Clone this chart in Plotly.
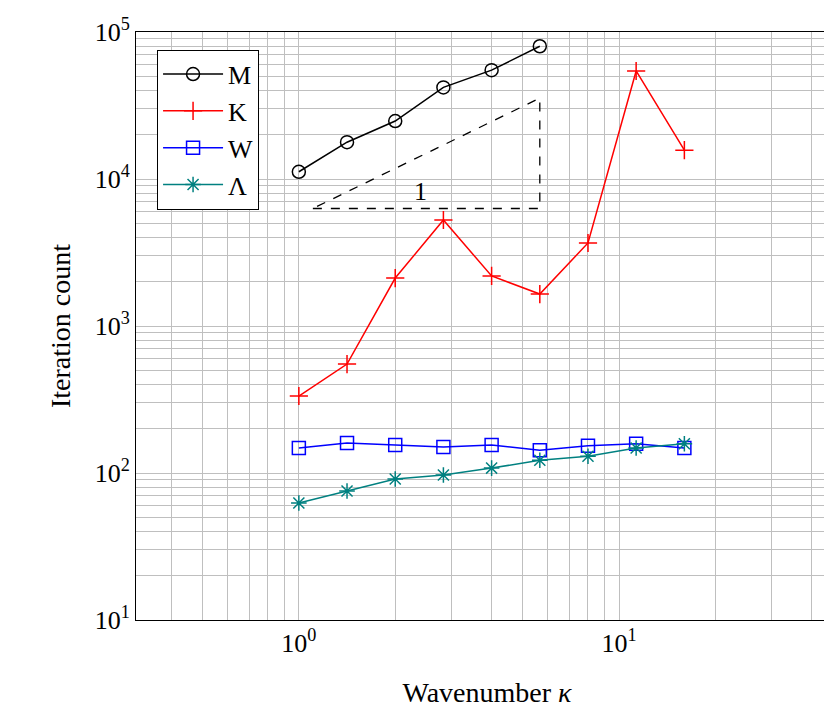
import plotly.graph_objects as go
import math

kappa = [1, 1.414, 2, 2.828, 4, 5.657, 8, 11.31, 16]
M_vals = [11200, 17800, 24800, 42000, 55000, 80000]
K_vals = [334, 551, 2120, 5260, 2190, 1650, 3670, 54300, 15700]
W_vals = [148, 160, 155, 150, 155, 143, 153, 158, 148]
L_vals = [62.5, 75.4, 91, 97, 108, 122, 130, 148, 158]
tri_x = [1.106, 5.657, 5.657, 1.106]
tri_y = [6300, 6300, 35500, 6300]

font = "Liberation Serif"
fig = go.Figure()
fig.add_trace(go.Scatter(x=tri_x, y=tri_y, mode="lines", showlegend=False,
                         line=dict(color="black", dash="dash", width=1.3)))
series = [("M", kappa[:len(M_vals)], M_vals, "black", "circle-open"),
          ("K", kappa, K_vals, "red", "cross-thin-open"),
          ("W", kappa, W_vals, "blue", "square-open"),
          ("Λ", kappa, L_vals, "#008080", "asterisk-open")]
for name, x, y, c, sym in series:
    fig.add_trace(go.Scatter(x=x, y=y, name=name, mode="lines+markers",
                             line=dict(color=c, width=1.5),
                             marker=dict(symbol=sym, size=13, color=c, line=dict(color=c, width=1.5))))
fig.add_annotation(x=math.log10(2.4), y=math.log10(8200), text="1", showarrow=False,
                   font=dict(size=26, color="black", family=font))

def minors(e0, e1):
    return [k * 10 ** e for e in range(e0, e1) for k in range(2, 10)]

grid = "#bfbfbf"
ax = dict(type="log", showline=True, linecolor="black", linewidth=1, mirror=True,
          showgrid=True, gridcolor=grid, ticks="", zeroline=False, automargin=False,
          tickfont=dict(size=26, family=font, color="black"))
fig.update_layout(
    width=832, height=717, plot_bgcolor="white", paper_bgcolor="white",
    margin=dict(l=128, r=2, t=24, b=105),
    font=dict(family=font, color="black"),
    xaxis=dict(ax, range=[math.log10(0.31), math.log10(48.3)],
               tickvals=[1, 10], ticktext=["10<sup>0</sup>", "10<sup>1</sup>"],
               minor=dict(tickmode="array", tickvals=minors(-1, 2), showgrid=True, gridcolor=grid, ticks=""),
               title=dict(text="Wavenumber <i>κ</i>", font=dict(size=28, family=font), standoff=25)),
    yaxis=dict(ax, range=[1, 5],
               tickvals=[10, 100, 1000, 1e4, 1e5],
               ticktext=["10<sup>%d</sup>" % i for i in range(1, 6)],
               minor=dict(tickmode="array", tickvals=minors(1, 5), showgrid=True, gridcolor=grid, ticks=""),
               title=dict(text="Iteration count", font=dict(size=28, family=font), standoff=15)),
    legend=dict(x=0.03, y=0.97, xanchor="left", yanchor="top", bgcolor="white",
                bordercolor="black", borderwidth=1, font=dict(size=26, family=font),
                itemwidth=60, tracegroupgap=0),
)
fig.write_html("out.html")
